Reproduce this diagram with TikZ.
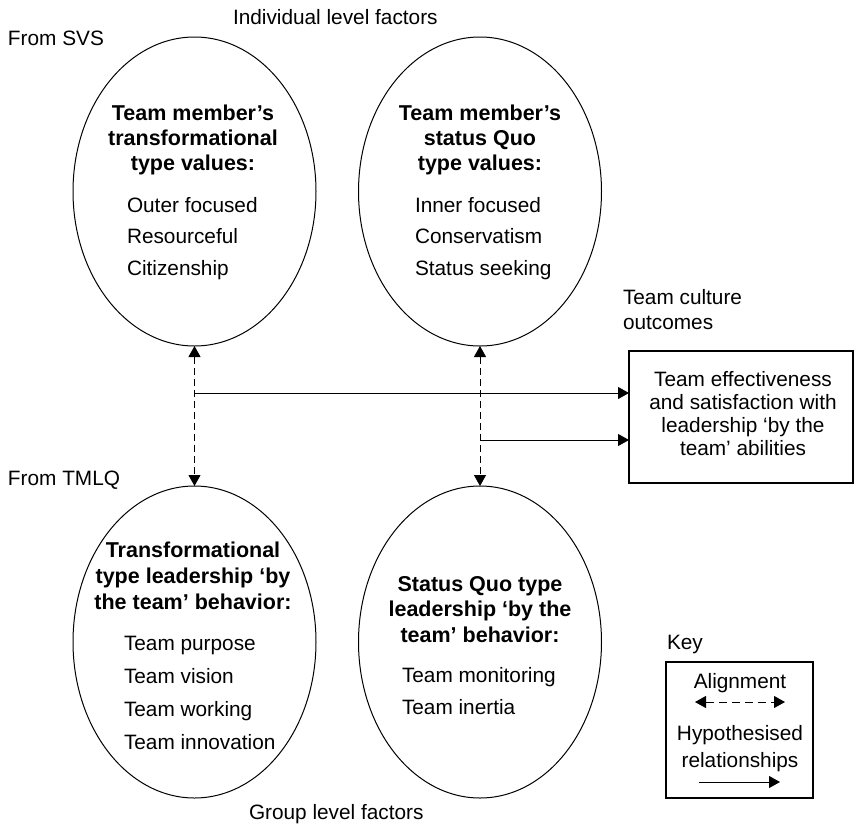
\documentclass[tikz,border=0pt]{standalone}
\usepackage{fontspec}
\setmainfont{Liberation Sans}
\usetikzlibrary{shapes.geometric,arrows.meta}
\begin{document}
\begin{tikzpicture}[x=1pt,y=-1pt,
  every node/.style={inner sep=0pt,outer sep=0pt},
  txt/.style={font=\fontsize{20.8}{24}\selectfont,anchor=base},
  lefttxt/.style={txt,anchor=base west},
  hd/.style={font=\fontsize{21.5}{25}\selectfont\bfseries,anchor=base},
  oval/.style={draw,ellipse,line width=1pt,minimum width=243pt},
  rel/.style={line width=1pt,-{Triangle[length=11pt,width=12pt]}},
  align arrow/.style={line width=1pt,dash pattern=on 7pt off 4pt,
    {Triangle[length=11pt,width=12pt]}-{Triangle[length=11pt,width=12pt]}},
  framebox/.style={draw,line width=1.1pt}]
\useasboundingbox (0,0) rectangle (855,823);

% factor labels
\node[lefttxt] (indiv) at (233,24) {Individual level factors};
\node[lefttxt] (svs) at (8,45) {From SVS};
\node[lefttxt] (tmlq) at (8,485) {From TMLQ};
\node[lefttxt] (group) at (249,819) {Group level factors};

% the four value / behaviour ovals
\node[oval,minimum height=309pt] (tl) at (194.5,191.5) {};
\node[oval,minimum height=309pt] (tr) at (480,191.5) {};
\node[oval,minimum height=312pt] (bl) at (194.5,642) {};
\node[oval,minimum height=312pt] (br) at (480,642) {};

% top left oval
\foreach \t [count=\i] in {Team member’s,transformational,type values:}
  \node[hd] (tlh\i) at (193,{120+(\i-1)*25}) {\t};
\foreach \t [count=\i] in {Outer focused,Resourceful,Citizenship}
  \node[lefttxt] (tli\i) at (127,{212+(\i-1)*31.5}) {\t};

% top right oval
\foreach \t [count=\i] in {Team member’s,status Quo,type values:}
  \node[hd] (trh\i) at (480,{120+(\i-1)*25}) {\t};
\foreach \t [count=\i] in {Inner focused,Conservatism,Status seeking}
  \node[lefttxt] (tri\i) at (415,{212+(\i-1)*31.5}) {\t};

% bottom left oval
\foreach \t [count=\i] in {Transformational,type leadership ‘by,the team’ behavior:}
  \node[hd] (blh\i) at (193,{557+(\i-1)*26}) {\t};
\foreach \t [count=\i] in {Team purpose,Team vision,Team working,Team innovation}
  \node[lefttxt] (bli\i) at (124,{650+(\i-1)*33}) {\t};

% bottom right oval
\foreach \t [count=\i] in {Status Quo type,leadership ‘by the,team’ behavior:}
  \node[hd] (brh\i) at (480,{591+(\i-1)*25.5}) {\t};
\foreach \t [count=\i] in {Team monitoring,Team inertia}
  \node[lefttxt] (bri\i) at (402,{682+(\i-1)*32}) {\t};

% outcomes
\node[lefttxt] (cult1) at (623,304) {Team culture};
\node[lefttxt] (cult2) at (623,329) {outcomes};
\node[framebox,minimum width=224pt,minimum height=132pt] (outbox) at (741,417) {};
\foreach \t [count=\i] in {Team effectiveness,and satisfaction with,leadership ‘by the,team’ abilities}
  \node[txt] (out\i) at (743,{386+(\i-1)*23}) {\t};

% alignment links
\draw[align arrow] (tl.south) -- (bl.north);
\draw[align arrow] (tr.south) -- (br.north);

% hypothesised relationships
\coordinate (h1) at (194.5,393);
\coordinate (h2) at (480,440);
\draw[rel] (h1) -- (h1 -| outbox.west);
\draw[rel] (h2) -- (h2 -| outbox.west);

% key
\node[lefttxt] (key) at (667,649) {Key};
\node[framebox,minimum width=147pt,minimum height=136pt] (keybox) at (739.5,730) {};
\node[txt] (kal) at (740,688) {Alignment};
\coordinate (ka) at (695,702);
\coordinate (kb) at (785,702);
\draw[line width=1pt,dash pattern=on 8pt off 5pt,
  {Triangle[length=11pt,width=12pt]}-{Triangle[length=11pt,width=12pt]}] (ka) -- (kb);
\node[txt] (khy) at (740,740) {Hypothesised};
\node[txt] (kre) at (740,767) {relationships};
\coordinate (kc) at (699,782);
\coordinate (kd) at (780,782);
\draw[rel] (kc) -- (kd);
\end{tikzpicture}
\end{document}
